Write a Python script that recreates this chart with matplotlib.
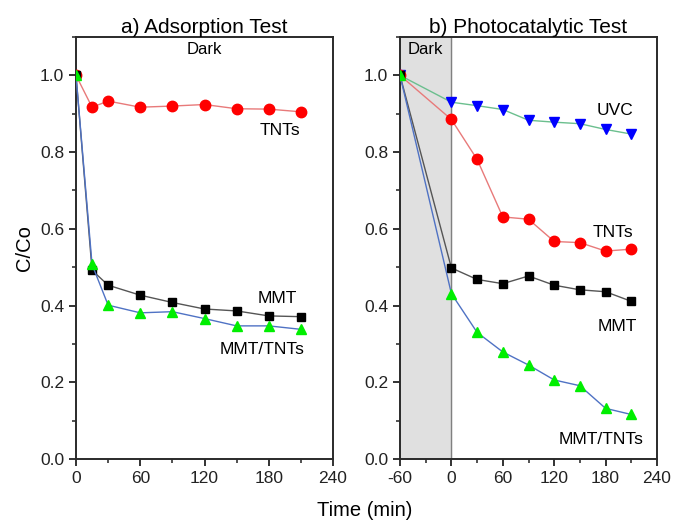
import matplotlib
matplotlib.use("Agg")
import matplotlib.pyplot as plt
from matplotlib.ticker import MultipleLocator

plt.rcParams['font.family'] = ['Liberation Sans', 'DejaVu Sans']
plt.rcParams['axes.unicode_minus'] = False

# ---- data ----
t_ads = [0, 15, 30, 60, 90, 120, 150, 180, 210]
ads_tnts = [1.0, 0.917, 0.933, 0.917, 0.920, 0.924, 0.913, 0.912, 0.905]
ads_mmt = [1.0, 0.492, 0.453, 0.427, 0.408, 0.391, 0.386, 0.373, 0.371]
ads_mmt_tnts = [1.0, 0.507, 0.401, 0.381, 0.384, 0.366, 0.347, 0.347, 0.338]

t_pc = [-60, 0, 30, 60, 90, 120, 150, 180, 210]
pc_uvc = [1.0, 0.930, 0.921, 0.911, 0.883, 0.878, 0.874, 0.859, 0.847]
pc_tnts = [1.0, 0.885, 0.781, 0.631, 0.625, 0.567, 0.564, 0.542, 0.547]
pc_mmt = [1.0, 0.498, 0.468, 0.457, 0.477, 0.453, 0.441, 0.436, 0.411]
pc_mmt_tnts = [1.0, 0.431, 0.330, 0.279, 0.245, 0.206, 0.191, 0.132, 0.116]

titles = ["a) Adsorption Test", "b) Photocatalytic Test"]
x_ticks_a = [0, 60, 120, 180, 240]
x_ticks_b = [-60, 0, 60, 120, 180, 240]
y_ticks = [0.0, 0.2, 0.4, 0.6, 0.8, 1.0]

fs = 12.5
red_line = '#e87a7a'
gray_line = '#555555'
blue_line = '#4f72c4'
green_line = '#6bbf8e'

fig = plt.figure(figsize=(6.73, 5.24), dpi=100)
W, H = 673, 524
ax1 = fig.add_axes([76 / W, 1 - 459 / H, (333 - 76) / W, (459 - 37) / H])
ax2 = fig.add_axes([400 / W, 1 - 459 / H, (657 - 400) / W, (459 - 37) / H])

def style(ax, xt, xlim):
    ax.set_ylim(0, 1.1)
    ax.set_xlim(*xlim)
    ax.set_xticks(xt)
    ax.set_yticks(y_ticks)
    ax.set_yticklabels([f"{v:.1f}" for v in y_ticks])
    ax.xaxis.set_minor_locator(MultipleLocator(30))
    ax.yaxis.set_minor_locator(MultipleLocator(0.1))
    ax.tick_params(which='major', direction='out', length=5, width=1.3,
                   labelsize=fs, colors='#222222', top=False, right=False)
    ax.tick_params(which='minor', direction='out', length=3, width=1.1,
                   top=False, right=False, colors='#222222')
    for s in ax.spines.values():
        s.set_linewidth(1.4)
        s.set_color('#2a2a2a')

style(ax1, x_ticks_a, (0, 240))
style(ax2, x_ticks_b, (-60, 240))

# panel a
ax1.plot(t_ads, ads_tnts, color=red_line, lw=1.0, marker='o', ms=7.5,
         mfc='#ff0000', mec='#ff0000', zorder=3)
ax1.plot(t_ads, ads_mmt, color=gray_line, lw=1.0, marker='s', ms=6,
         mfc='black', mec='black', zorder=3)
ax1.plot(t_ads, ads_mmt_tnts, color=blue_line, lw=1.0, marker='^', ms=7.5,
         mfc='#00ee00', mec='#00ee00', zorder=4)
ax1.text(120, 1.088, "Dark", ha='center', va='top', fontsize=12)
ax1.text(190, 0.857, "TNTs", ha='center', va='center', fontsize=fs)
ax1.text(188, 0.419, "MMT", ha='center', va='center', fontsize=fs)
ax1.text(174, 0.286, "MMT/TNTs", ha='center', va='center', fontsize=fs)
ax1.set_title(titles[0], fontsize=15, pad=2)
ax1.set_ylabel("C/Co", fontsize=14.5, labelpad=4)

# panel b
ax2.axvspan(-60, 0, color='#e0e0e0', zorder=0)
ax2.axvline(0, color='#808080', lw=1.0, zorder=1)
ax2.plot(t_pc, pc_uvc, color=green_line, lw=1.0, marker='v', ms=7.5,
         mfc='#0000ff', mec='#0000ff', zorder=3)
ax2.plot(t_pc, pc_tnts, color=red_line, lw=1.0, marker='o', ms=7.5,
         mfc='#ff0000', mec='#ff0000', zorder=3)
ax2.plot(t_pc, pc_mmt, color=gray_line, lw=1.0, marker='s', ms=6,
         mfc='black', mec='black', zorder=3)
ax2.plot(t_pc, pc_mmt_tnts, color=blue_line, lw=1.0, marker='^', ms=7.5,
         mfc='#00ee00', mec='#00ee00', zorder=4)
ax2.text(-30, 1.088, "Dark", ha='center', va='top', fontsize=12)
ax2.text(191, 0.909, "UVC", ha='center', va='center', fontsize=fs)
ax2.text(189, 0.591, "TNTs", ha='center', va='center', fontsize=fs)
ax2.text(194, 0.346, "MMT", ha='center', va='center', fontsize=fs)
ax2.text(175, 0.052, "MMT/TNTs", ha='center', va='center', fontsize=fs)
ax2.set_title(titles[1], fontsize=15, pad=2)

fig.text(365 / W, 1 - 510 / H, "Time (min)", ha='center', va='center', fontsize=14.5)

fig.savefig("out.png", dpi=100)
